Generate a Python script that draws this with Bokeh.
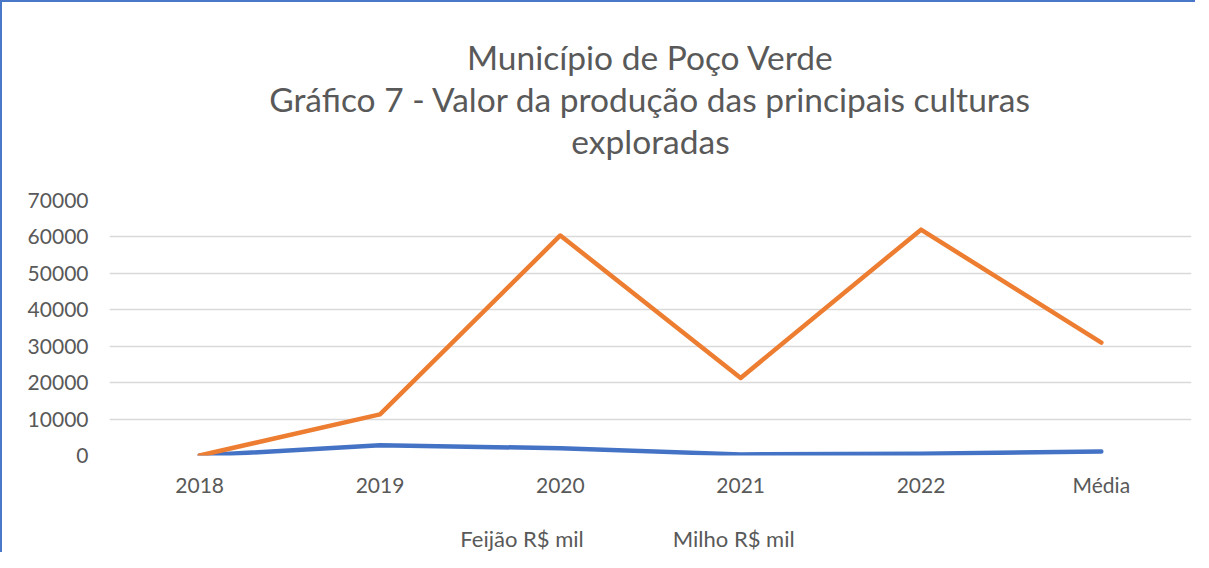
from bokeh.plotting import figure
from bokeh.layouts import column
from bokeh.models import Title, Legend, LegendItem, FactorRange, Range1d, NumeralTickFormatter
from bokeh.embed import file_html
from bokeh.resources import INLINE

categories = ["2018", "2019", "2020", "2021", "2022", "Média"]
feijao = [0, 2800, 2000, 300, 500, 1120]
milho = [0, 11300, 60400, 21300, 62000, 31000]
y_ticks = [0, 10000, 20000, 30000, 40000, 50000, 60000, 70000]
series_names = ["Feijão R$ mil", "Milho R$ mil"]
series_colors = ["#4472c4", "#ed7d31"]
title_lines = ["Município de Poço Verde",
               "Gráfico 7 - Valor da produção das principais culturas",
               "exploradas"]

FONT = "Lato"
GRAY = "#595959"

p = figure(frame_width=1080, frame_height=253,
           x_range=FactorRange(*categories, range_padding=0),
           y_range=Range1d(0, 70000), output_backend="svg", toolbar_location=None,
           min_border_left=107, min_border_right=6, min_border_top=0, min_border_bottom=45)
p.title = None
p.outline_line_color = None
p.background_fill_color = "white"
p.border_fill_color = "white"


def spacer(size):
    return Title(text=" ", text_font=FONT, text_font_size=size, standoff=0, offset=0)


# above panel: first added sits closest to the plot frame
p.add_layout(spacer("31px"), "above")
for txt in reversed(title_lines):
    p.add_layout(Title(text=txt, align="center", text_font=FONT, text_font_size="33.5px",
                       text_font_style="normal", text_color=GRAY, standoff=0, offset=0), "above")
p.add_layout(spacer("25px"), "above")

p.line(categories, feijao, line_color=series_colors[0], line_width=4.5,
       line_cap="round", line_join="round")
p.line(categories, milho, line_color=series_colors[1], line_width=4.5,
       line_cap="round", line_join="round")

p.xaxis.axis_line_color = None
p.xaxis.major_tick_line_color = None
p.xaxis.minor_tick_line_color = None
p.xaxis.major_label_text_font = FONT
p.xaxis.major_label_text_font_size = "21px"
p.xaxis.major_label_text_color = GRAY
p.xaxis.major_label_standoff = 10

p.yaxis.ticker = y_ticks
p.yaxis.formatter = NumeralTickFormatter(format="0")
p.yaxis.axis_line_color = None
p.yaxis.major_tick_line_color = None
p.yaxis.minor_tick_line_color = None
p.yaxis.major_label_text_font = FONT
p.yaxis.major_label_text_font_size = "21px"
p.yaxis.major_label_text_color = GRAY
p.yaxis.major_label_standoff = 15

p.xgrid.grid_line_color = None
p.ygrid.grid_line_color = "#d9d9d9"
p.ygrid.grid_line_width = 1.5

p.styles = {"border-left": "2px solid #4a78c8", "border-top": "2px solid #4a78c8"}

# legend strip below the chart
lg = figure(frame_width=1171, frame_height=54, output_backend="svg", toolbar_location=None,
            x_range=Range1d(0, 1), y_range=Range1d(0, 1),
            min_border_left=22, min_border_right=0, min_border_top=0, min_border_bottom=0)
lg.title = None
lg.outline_line_color = None
lg.axis.visible = False
lg.grid.visible = False
lg.border_fill_color = "white"
lr1 = lg.line(x=[], y=[], line_color=series_colors[0], line_width=5, line_cap="round")
lr2 = lg.line(x=[], y=[], line_color=series_colors[1], line_width=5, line_cap="round")
legend = Legend(items=[LegendItem(label=series_names[0], renderers=[lr1]),
                       LegendItem(label=series_names[1], renderers=[lr2])],
                orientation="horizontal", location="bottom_center",
                label_text_font=FONT, label_text_font_size="22px", label_text_color=GRAY,
                glyph_width=57, glyph_height=22, spacing=31, label_standoff=1,
                border_line_color=None, background_fill_alpha=0, margin=0, padding=2)
lg.add_layout(legend, "center")
lg.styles = {"border-left": "2px solid #4a78c8"}

layout = column(p, lg, spacing=0)
open("out.html", "w").write(file_html(layout, INLINE))
